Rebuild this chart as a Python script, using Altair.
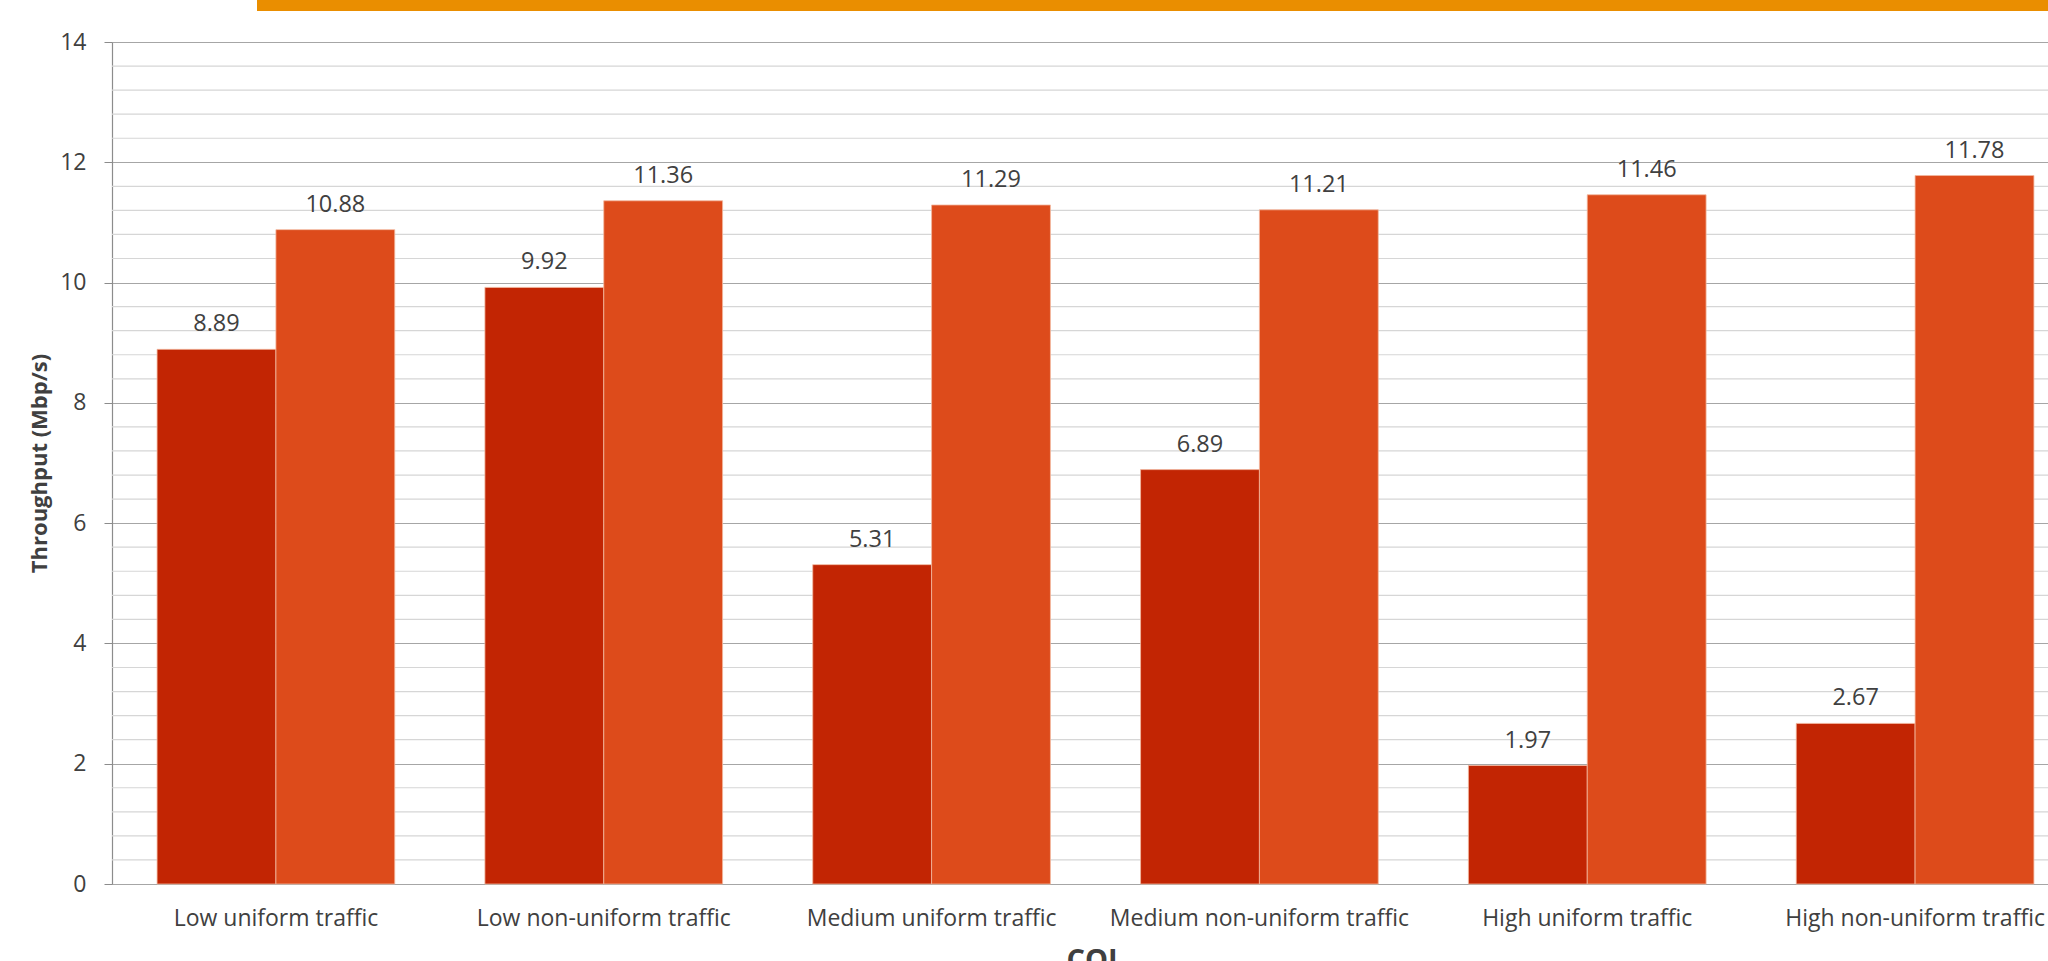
import altair as alt
import pandas as pd

categories = [
    "Low uniform traffic",
    "Low non-uniform traffic",
    "Medium uniform traffic",
    "Medium non-uniform traffic",
    "High uniform traffic",
    "High non-uniform traffic",
]
series_names = ["Series A", "Series B"]
series_a = [8.89, 9.92, 5.31, 6.89, 1.97, 2.67]
series_b = [10.88, 11.36, 11.29, 11.21, 11.46, 11.78]
major_ticks = [0, 2, 4, 6, 8, 10, 12, 14]
minor_ticks = [0.4, 0.8, 1.2, 1.6, 2.4, 2.8, 3.2, 3.6, 4.4, 4.8, 5.2, 5.6,
               6.4, 6.8, 7.2, 7.6, 8.4, 8.8, 9.2, 9.6, 10.4, 10.8, 11.2, 11.6,
               12.4, 12.8, 13.2, 13.6]

rows = []
for c, a, b in zip(categories, series_a, series_b):
    rows.append({"cat": c, "series": series_names[0], "value": a})
    rows.append({"cat": c, "series": series_names[1], "value": b})
df = pd.DataFrame(rows)
minor_df = pd.DataFrame({"v": minor_ticks})

FONT = "Open Sans"
TXT = "#404040"
W = 1936
H = 842

xscale = alt.Scale(domain=categories, range=[0, 1967], paddingInner=0.275, paddingOuter=0.1375)
yscale = alt.Scale(domain=[0, 14], nice=False)
color_scale = alt.Scale(domain=series_names, range=["#C22503", "#DD4B1B"])

xaxis = alt.Axis(title="COL", labelAngle=0, labelFont=FONT, labelFontSize=23,
                 labelColor=TXT, labelPadding=23, ticks=False, labelOverlap=False,
                 labelLimit=0,
                 domainColor="#A6A6A6", domainWidth=1.2, grid=False,
                 titleFont=FONT, titleFontSize=29, titleFontWeight="bold",
                 titleColor=TXT, titleX=983, titleY=62, titleBaseline="top",
                 titleAlign="center")
yaxis = alt.Axis(title="Throughput (Mbp/s)", values=major_ticks, format="d",
                 labelFont=FONT, labelFontSize=23, labelColor=TXT,
                 labelPadding=18, tickSize=8, tickColor="#8C8C8C",
                 domainColor="#8C8C8C", domainWidth=1.2,
                 gridColor="#A6A6A6", gridWidth=1.2,
                 titleFont=FONT, titleFontSize=22, titleFontWeight="bold",
                 titleColor=TXT, titleX=-73, titleY=H / 2, titleAngle=270,
                 titleBaseline="middle", titleAlign="center", orient="left")

minor = alt.Chart(minor_df).mark_rule(color="#D6D6D6", strokeWidth=1.2).encode(
    y=alt.Y("v:Q", scale=yscale, axis=yaxis),
    x=alt.value(0), x2=alt.value(W),
)

base = alt.Chart(df)

bars = base.mark_bar(stroke="#F2B9A0", strokeWidth=0.8).encode(
    x=alt.X("cat:N", scale=xscale, sort=categories, axis=xaxis),
    xOffset=alt.XOffset("series:N", sort=series_names),
    y=alt.Y("value:Q", scale=yscale, axis=yaxis),
    color=alt.Color("series:N", scale=color_scale, legend=None),
)

labels = base.mark_text(font=FONT, fontSize=23.5, color=TXT, baseline="middle", dy=-25).encode(
    x=alt.X("cat:N", scale=xscale, sort=categories, axis=xaxis),
    xOffset=alt.XOffset("series:N", sort=series_names),
    y=alt.Y("value:Q", scale=yscale, axis=yaxis),
    text=alt.Text("value:Q", format=".2f"),
)

topbar = alt.Chart(alt.Data(values=[{}])).mark_rect(color="#EA8E00").encode(
    x=alt.value(145), x2=alt.value(W), y=alt.value(-42), y2=alt.value(-31)
)

chart = (
    alt.layer(minor, bars, labels, topbar)
    .properties(width=W, height=H, autosize=alt.AutoSizeParams(type="none"),
                padding={"left": 112, "top": 42, "right": 0, "bottom": 77})
    .configure_view(stroke=None)
    .configure(background="white")
)

chart.save("out.html", embed_options={"renderer": "svg", "actions": False})
